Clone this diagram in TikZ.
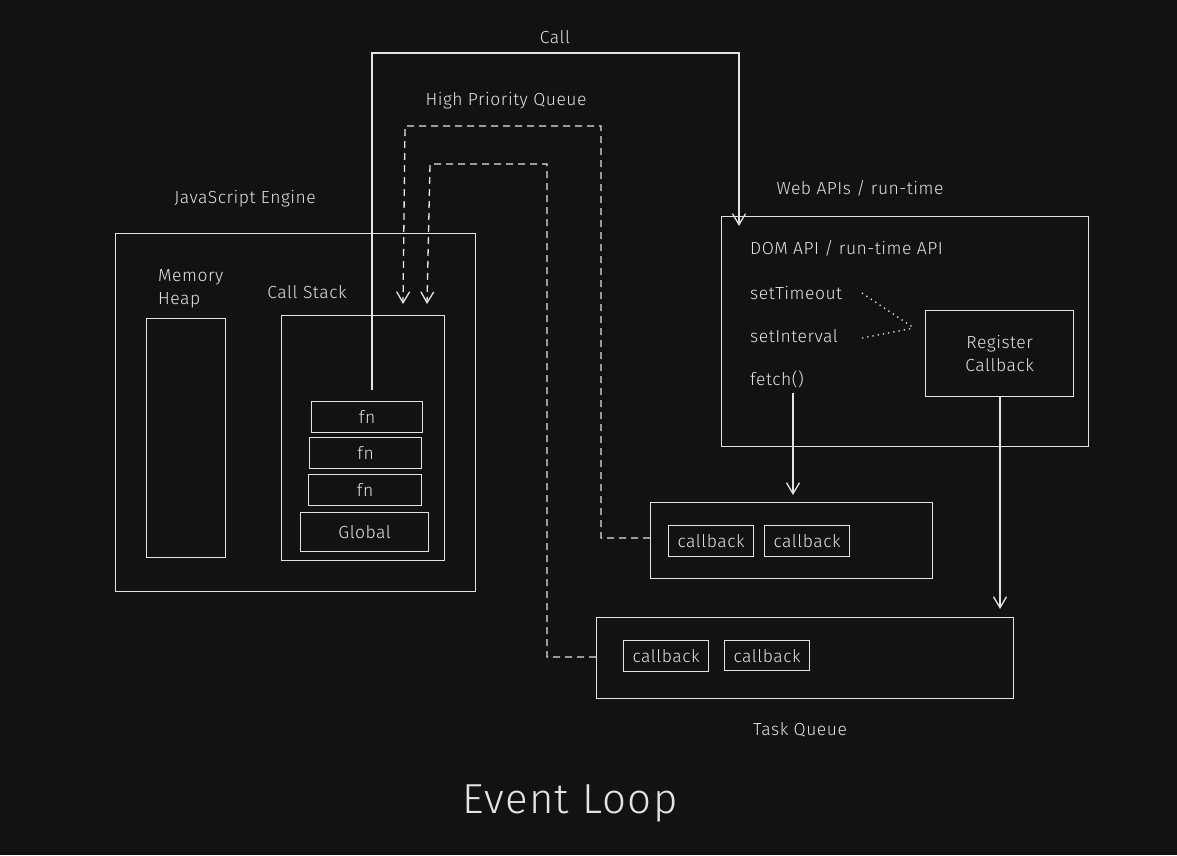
\documentclass[tikz,border=0pt]{standalone}
\usepackage{fontspec}
\setmainfont{Fira Sans Light}[BoldFont=Fira Sans,LetterSpace=3]
\usetikzlibrary{arrows.meta}
\definecolor{bg}{HTML}{121212}
\definecolor{ink}{HTML}{E3E3E3}
\begin{document}
\begin{tikzpicture}[x=1pt,y=-1pt,
  box/.style={draw=ink,line width=1.3pt},
  lbl/.style={text=ink,font=\fontsize{17.5}{23}\selectfont,inner sep=0},
  cb/.style={draw=ink,line width=1.3pt,text=ink,font=\fontsize{17.5}{23}\selectfont,inner sep=0},
  conn/.style={draw=ink,line width=1.3pt},
  dsh/.style={draw=ink,line width=1.3pt,dash pattern=on 7pt off 5pt},
  dot/.style={draw=ink,line width=1.3pt,dash pattern=on 1.3pt off 4pt},
  arr/.style={-{Straight Barb[length=11pt,width=13pt,line width=1.3pt]}}
]
\fill[bg] (0,0) rectangle (1177,855);
\useasboundingbox (0,0) rectangle (1177,855);

% JS engine
\node[lbl] (jslbl) at (245,199) {JavaScript Engine};
\node[box,minimum width=360pt,minimum height=358pt,anchor=north west] (js) at (115,233) {};
\node[lbl,align=left,anchor=west] (mhlbl) at (158,289) {Memory\\Heap};
\node[box,minimum width=79pt,minimum height=239pt,anchor=north west] (heap) at (146,318) {};
\node[lbl] (cslbl) at (307,292) {Call Stack};
\node[box,minimum width=163pt,minimum height=245pt,anchor=north west] (cs) at (281,315) {};
\node[cb,minimum width=111pt,minimum height=31pt,anchor=north west] (fn1) at (311,401) {fn};
\node[cb,minimum width=112pt,minimum height=31pt,anchor=north west] (fn2) at (309,437) {fn};
\node[cb,minimum width=113pt,minimum height=31pt,anchor=north west] (fn3) at (308,474) {fn};
\node[cb,minimum width=128pt,minimum height=39pt,anchor=north west] (glob) at (300,512) {Global};

% Web APIs
\node[lbl] (webl) at (860,188) {Web APIs / run-time};
\node[box,minimum width=367pt,minimum height=230pt,anchor=north west] (web) at (721,216) {};
\node[lbl,anchor=west] (dom) at (750,248) {DOM API / run-time API};
\node[lbl,anchor=west] (st) at (750,293) {setTimeout};
\node[lbl,anchor=west] (si) at (750,336) {setInterval};
\node[lbl,anchor=west] (fe) at (750,379) {fetch()};
\node[cb,minimum width=148pt,minimum height=86pt,anchor=north west,align=center] (reg) at (925,310) {Register\\Callback};
\coordinate (meet) at (914,328);
\draw[dot] (862,293) -- (meet);
\draw[dot] (862,338) -- (meet);

% High priority queue
\node[box,minimum width=282pt,minimum height=76pt,anchor=north west] (hpq) at (650,502) {};
\node[cb,minimum width=85pt,minimum height=31pt,anchor=north west] (hc1) at (668,525) {callback};
\node[cb,minimum width=85pt,minimum height=31pt,anchor=north west] (hc2) at (764,525) {callback};
\node[lbl] (hplbl) at (506,101) {High Priority Queue};

% Task queue
\node[box,minimum width=417pt,minimum height=81pt,anchor=north west] (tq) at (596,617) {};
\node[cb,minimum width=85pt,minimum height=31pt,anchor=north west] (tc1) at (623,640) {callback};
\node[cb,minimum width=85pt,minimum height=30pt,anchor=north west] (tc2) at (724,640) {callback};
\node[lbl] (tqlbl) at (800,730) {Task Queue};

% Call arrow
\node[lbl] (calllbl) at (555,37) {Call};
\coordinate (callstart) at (372,390);
\coordinate (webtop) at (739,226);
\draw[conn,arr] (callstart) -- (372,53) -- (739,53) -- (webtop);

% fetch arrow
\coordinate (fetchbot) at (793,393);
\draw[conn,arr] (fetchbot) -- (793,495);
% register arrow
\draw[conn,arr] (reg.south -| 1000,0) -- (1000,609);

% dashed returns
\coordinate (cs1) at (403,304);
\coordinate (cs2) at (427,304);
\draw[dsh,arr] (hpq.west |- 0,538) -- (601,538) -- (601,126) -- (405,126) -- (cs1);
\draw[dsh,arr] (tq.west |- 0,657) -- (547,657) -- (547,164) -- (430,164) -- (cs2);

% title
\node[text=ink,font=\fontsize{42}{46}\selectfont,inner sep=0] (title) at (570,803) {Event Loop};
\end{tikzpicture}
\end{document}
